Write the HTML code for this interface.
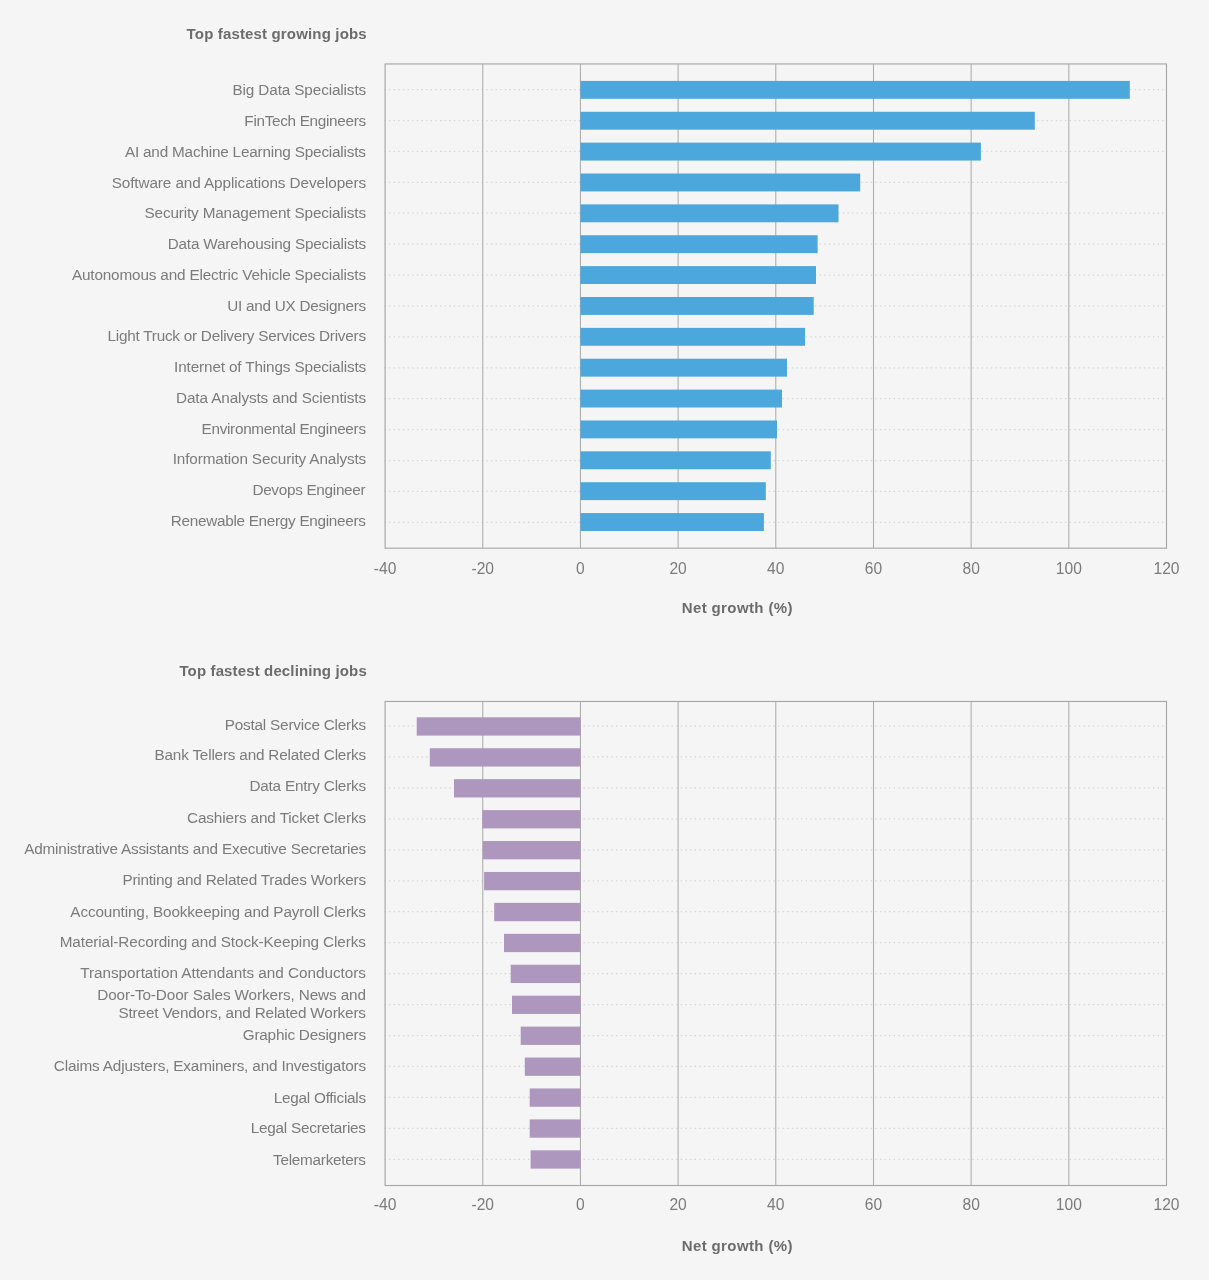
<!DOCTYPE html>
<html><head><meta charset="utf-8"><title>Fastest growing and declining jobs</title>
<style>
html,body{margin:0;padding:0;background:#f5f5f5;}
body{width:1209px;height:1280px;overflow:hidden;font-family:"Liberation Sans",sans-serif;}
svg{display:block;will-change:transform;font-family:"Liberation Sans",sans-serif;}
</style></head>
<body>
<svg width="1209" height="1280" viewBox="0 0 1209 1280">
<rect x="0" y="0" width="1209" height="1280" fill="#f5f5f5"/>
<line x1="384.45" y1="89.60" x2="1165.50" y2="89.60" stroke="#d4d4d4" stroke-width="1.25" stroke-dasharray="1.3 3.33"/>
<line x1="384.45" y1="120.51" x2="1165.50" y2="120.51" stroke="#d4d4d4" stroke-width="1.25" stroke-dasharray="1.3 3.33"/>
<line x1="384.45" y1="151.42" x2="1165.50" y2="151.42" stroke="#d4d4d4" stroke-width="1.25" stroke-dasharray="1.3 3.33"/>
<line x1="384.45" y1="182.33" x2="1066.83" y2="182.33" stroke="#d4d4d4" stroke-width="1.25" stroke-dasharray="1.3 3.33"/>
<line x1="384.45" y1="213.24" x2="1165.50" y2="213.24" stroke="#d4d4d4" stroke-width="1.25" stroke-dasharray="1.3 3.33"/>
<line x1="384.45" y1="244.15" x2="1165.50" y2="244.15" stroke="#d4d4d4" stroke-width="1.25" stroke-dasharray="1.3 3.33"/>
<line x1="384.45" y1="275.06" x2="1165.50" y2="275.06" stroke="#d4d4d4" stroke-width="1.25" stroke-dasharray="1.3 3.33"/>
<line x1="384.45" y1="305.97" x2="1165.50" y2="305.97" stroke="#d4d4d4" stroke-width="1.25" stroke-dasharray="1.3 3.33"/>
<line x1="384.45" y1="336.88" x2="1165.50" y2="336.88" stroke="#d4d4d4" stroke-width="1.25" stroke-dasharray="1.3 3.33"/>
<line x1="384.45" y1="367.79" x2="1165.50" y2="367.79" stroke="#d4d4d4" stroke-width="1.25" stroke-dasharray="1.3 3.33"/>
<line x1="384.45" y1="398.70" x2="1165.50" y2="398.70" stroke="#d4d4d4" stroke-width="1.25" stroke-dasharray="1.3 3.33"/>
<line x1="384.45" y1="429.61" x2="1165.50" y2="429.61" stroke="#d4d4d4" stroke-width="1.25" stroke-dasharray="1.3 3.33"/>
<line x1="384.45" y1="460.52" x2="1165.50" y2="460.52" stroke="#d4d4d4" stroke-width="1.25" stroke-dasharray="1.3 3.33"/>
<line x1="384.45" y1="491.43" x2="1165.50" y2="491.43" stroke="#d4d4d4" stroke-width="1.25" stroke-dasharray="1.3 3.33"/>
<line x1="384.45" y1="522.34" x2="1165.50" y2="522.34" stroke="#d4d4d4" stroke-width="1.25" stroke-dasharray="1.3 3.33"/>
<rect x="385.1" y="63.95" width="781.40" height="484.25" fill="none" stroke="#a4a4a4" stroke-width="1.1"/>
<line x1="482.78" y1="63.95" x2="482.78" y2="548.2" stroke="#a8a8a8" stroke-width="1"/>
<line x1="580.45" y1="63.95" x2="580.45" y2="548.2" stroke="#a8a8a8" stroke-width="1"/>
<line x1="678.12" y1="63.95" x2="678.12" y2="548.2" stroke="#a8a8a8" stroke-width="1"/>
<line x1="775.80" y1="63.95" x2="775.80" y2="548.2" stroke="#a8a8a8" stroke-width="1"/>
<line x1="873.48" y1="63.95" x2="873.48" y2="548.2" stroke="#a8a8a8" stroke-width="1"/>
<line x1="971.15" y1="63.95" x2="971.15" y2="548.2" stroke="#a8a8a8" stroke-width="1"/>
<line x1="1068.83" y1="63.95" x2="1068.83" y2="548.2" stroke="#a8a8a8" stroke-width="1"/>
<rect x="580.45" y="80.90" width="549.35" height="17.90" fill="#4ca7dc"/>
<rect x="580.45" y="111.77" width="454.35" height="17.90" fill="#4ca7dc"/>
<rect x="580.45" y="142.64" width="400.45" height="17.90" fill="#4ca7dc"/>
<rect x="580.45" y="173.51" width="279.75" height="17.90" fill="#4ca7dc"/>
<rect x="580.45" y="204.38" width="258.05" height="17.90" fill="#4ca7dc"/>
<rect x="580.45" y="235.25" width="237.15" height="17.90" fill="#4ca7dc"/>
<rect x="580.45" y="266.12" width="235.55" height="17.90" fill="#4ca7dc"/>
<rect x="580.45" y="296.99" width="233.25" height="17.90" fill="#4ca7dc"/>
<rect x="580.45" y="327.86" width="224.55" height="17.90" fill="#4ca7dc"/>
<rect x="580.45" y="358.73" width="206.55" height="17.90" fill="#4ca7dc"/>
<rect x="580.45" y="389.60" width="201.55" height="17.90" fill="#4ca7dc"/>
<rect x="580.45" y="420.47" width="196.55" height="17.90" fill="#4ca7dc"/>
<rect x="580.45" y="451.34" width="190.35" height="17.90" fill="#4ca7dc"/>
<rect x="580.45" y="482.21" width="185.35" height="17.90" fill="#4ca7dc"/>
<rect x="580.45" y="513.08" width="183.45" height="17.90" fill="#4ca7dc"/>
<text x="385.10" y="573.7" text-anchor="middle" font-size="15.6" fill="#7b7b7b">-40</text>
<text x="482.78" y="573.7" text-anchor="middle" font-size="15.6" fill="#7b7b7b">-20</text>
<text x="580.45" y="573.7" text-anchor="middle" font-size="15.6" fill="#7b7b7b">0</text>
<text x="678.12" y="573.7" text-anchor="middle" font-size="15.6" fill="#7b7b7b">20</text>
<text x="775.80" y="573.7" text-anchor="middle" font-size="15.6" fill="#7b7b7b">40</text>
<text x="873.48" y="573.7" text-anchor="middle" font-size="15.6" fill="#7b7b7b">60</text>
<text x="971.15" y="573.7" text-anchor="middle" font-size="15.6" fill="#7b7b7b">80</text>
<text x="1068.83" y="573.7" text-anchor="middle" font-size="15.6" fill="#7b7b7b">100</text>
<text x="1166.50" y="573.7" text-anchor="middle" font-size="15.6" fill="#7b7b7b">120</text>
<line x1="384.45" y1="726.00" x2="1165.50" y2="726.00" stroke="#d4d4d4" stroke-width="1.25" stroke-dasharray="1.3 3.33"/>
<line x1="384.45" y1="756.95" x2="1165.50" y2="756.95" stroke="#d4d4d4" stroke-width="1.25" stroke-dasharray="1.3 3.33"/>
<line x1="384.45" y1="787.90" x2="1165.50" y2="787.90" stroke="#d4d4d4" stroke-width="1.25" stroke-dasharray="1.3 3.33"/>
<line x1="384.45" y1="818.85" x2="1165.50" y2="818.85" stroke="#d4d4d4" stroke-width="1.25" stroke-dasharray="1.3 3.33"/>
<line x1="384.45" y1="849.80" x2="1165.50" y2="849.80" stroke="#d4d4d4" stroke-width="1.25" stroke-dasharray="1.3 3.33"/>
<line x1="384.45" y1="880.75" x2="1165.50" y2="880.75" stroke="#d4d4d4" stroke-width="1.25" stroke-dasharray="1.3 3.33"/>
<line x1="384.45" y1="911.70" x2="1165.50" y2="911.70" stroke="#d4d4d4" stroke-width="1.25" stroke-dasharray="1.3 3.33"/>
<line x1="384.45" y1="942.65" x2="1165.50" y2="942.65" stroke="#d4d4d4" stroke-width="1.25" stroke-dasharray="1.3 3.33"/>
<line x1="384.45" y1="973.60" x2="1165.50" y2="973.60" stroke="#d4d4d4" stroke-width="1.25" stroke-dasharray="1.3 3.33"/>
<line x1="384.45" y1="1004.55" x2="1165.50" y2="1004.55" stroke="#d4d4d4" stroke-width="1.25" stroke-dasharray="1.3 3.33"/>
<line x1="384.45" y1="1035.50" x2="1165.50" y2="1035.50" stroke="#d4d4d4" stroke-width="1.25" stroke-dasharray="1.3 3.33"/>
<line x1="384.45" y1="1066.45" x2="1165.50" y2="1066.45" stroke="#d4d4d4" stroke-width="1.25" stroke-dasharray="1.3 3.33"/>
<line x1="384.45" y1="1097.40" x2="1165.50" y2="1097.40" stroke="#d4d4d4" stroke-width="1.25" stroke-dasharray="1.3 3.33"/>
<line x1="384.45" y1="1128.35" x2="1165.50" y2="1128.35" stroke="#d4d4d4" stroke-width="1.25" stroke-dasharray="1.3 3.33"/>
<line x1="384.45" y1="1159.30" x2="1165.50" y2="1159.30" stroke="#d4d4d4" stroke-width="1.25" stroke-dasharray="1.3 3.33"/>
<rect x="385.1" y="701.45" width="781.40" height="484.05" fill="none" stroke="#a4a4a4" stroke-width="1.1"/>
<line x1="482.78" y1="701.45" x2="482.78" y2="1185.5" stroke="#a8a8a8" stroke-width="1"/>
<line x1="580.45" y1="701.45" x2="580.45" y2="1185.5" stroke="#a8a8a8" stroke-width="1"/>
<line x1="678.12" y1="701.45" x2="678.12" y2="1185.5" stroke="#a8a8a8" stroke-width="1"/>
<line x1="775.80" y1="701.45" x2="775.80" y2="1185.5" stroke="#a8a8a8" stroke-width="1"/>
<line x1="873.48" y1="701.45" x2="873.48" y2="1185.5" stroke="#a8a8a8" stroke-width="1"/>
<line x1="971.15" y1="701.45" x2="971.15" y2="1185.5" stroke="#a8a8a8" stroke-width="1"/>
<line x1="1068.83" y1="701.45" x2="1068.83" y2="1185.5" stroke="#a8a8a8" stroke-width="1"/>
<rect x="416.70" y="717.30" width="163.75" height="18.30" fill="#ae97bf"/>
<rect x="429.80" y="748.23" width="150.65" height="18.30" fill="#ae97bf"/>
<rect x="454.00" y="779.16" width="126.45" height="18.30" fill="#ae97bf"/>
<rect x="482.30" y="810.09" width="98.15" height="18.30" fill="#ae97bf"/>
<rect x="482.80" y="841.02" width="97.65" height="18.30" fill="#ae97bf"/>
<rect x="484.10" y="871.95" width="96.35" height="18.30" fill="#ae97bf"/>
<rect x="494.20" y="902.88" width="86.25" height="18.30" fill="#ae97bf"/>
<rect x="504.00" y="933.81" width="76.45" height="18.30" fill="#ae97bf"/>
<rect x="510.70" y="964.74" width="69.75" height="18.30" fill="#ae97bf"/>
<rect x="512.00" y="995.67" width="68.45" height="18.30" fill="#ae97bf"/>
<rect x="520.70" y="1026.60" width="59.75" height="18.30" fill="#ae97bf"/>
<rect x="524.80" y="1057.53" width="55.65" height="18.30" fill="#ae97bf"/>
<rect x="529.70" y="1088.46" width="50.75" height="18.30" fill="#ae97bf"/>
<rect x="529.70" y="1119.39" width="50.75" height="18.30" fill="#ae97bf"/>
<rect x="530.60" y="1150.32" width="49.85" height="18.30" fill="#ae97bf"/>
<text x="385.10" y="1210.0" text-anchor="middle" font-size="15.6" fill="#7b7b7b">-40</text>
<text x="482.78" y="1210.0" text-anchor="middle" font-size="15.6" fill="#7b7b7b">-20</text>
<text x="580.45" y="1210.0" text-anchor="middle" font-size="15.6" fill="#7b7b7b">0</text>
<text x="678.12" y="1210.0" text-anchor="middle" font-size="15.6" fill="#7b7b7b">20</text>
<text x="775.80" y="1210.0" text-anchor="middle" font-size="15.6" fill="#7b7b7b">40</text>
<text x="873.48" y="1210.0" text-anchor="middle" font-size="15.6" fill="#7b7b7b">60</text>
<text x="971.15" y="1210.0" text-anchor="middle" font-size="15.6" fill="#7b7b7b">80</text>
<text x="1068.83" y="1210.0" text-anchor="middle" font-size="15.6" fill="#7b7b7b">100</text>
<text x="1166.50" y="1210.0" text-anchor="middle" font-size="15.6" fill="#7b7b7b">120</text>
<text id="a0" x="232.51" y="95" font-size="15.3" fill="#7b7b7b" textLength="133.66" lengthAdjust="spacing">Big Data Specialists</text>
<text id="a1" x="244.33" y="126" font-size="15.3" fill="#7b7b7b" textLength="121.82" lengthAdjust="spacing">FinTech Engineers</text>
<text id="a2" x="124.91" y="157" font-size="15.3" fill="#7b7b7b" textLength="241.06" lengthAdjust="spacing">AI and Machine Learning Specialists</text>
<text id="a3" x="111.63" y="188" font-size="15.3" fill="#7b7b7b" textLength="254.57" lengthAdjust="spacing">Software and Applications Developers</text>
<text id="a4" x="144.50" y="218" font-size="15.3" fill="#7b7b7b" textLength="221.57" lengthAdjust="spacing">Security Management Specialists</text>
<text id="a5" x="167.68" y="249" font-size="15.3" fill="#7b7b7b" textLength="198.46" lengthAdjust="spacing">Data Warehousing Specialists</text>
<text id="a6" x="71.97" y="280" font-size="15.3" fill="#7b7b7b" textLength="294.09" lengthAdjust="spacing">Autonomous and Electric Vehicle Specialists</text>
<text id="a7" x="227.29" y="311" font-size="15.3" fill="#7b7b7b" textLength="138.89" lengthAdjust="spacing">UI and UX Designers</text>
<text id="a8" x="107.51" y="341" font-size="15.3" fill="#7b7b7b" textLength="258.56" lengthAdjust="spacing">Light Truck or Delivery Services Drivers</text>
<text id="a9" x="174.11" y="372" font-size="15.3" fill="#7b7b7b" textLength="192.09" lengthAdjust="spacing">Internet of Things Specialists</text>
<text id="a10" x="175.99" y="403" font-size="15.3" fill="#7b7b7b" textLength="190.17" lengthAdjust="spacing">Data Analysts and Scientists</text>
<text id="a11" x="201.51" y="434" font-size="15.3" fill="#7b7b7b" textLength="164.53" lengthAdjust="spacing">Environmental Engineers</text>
<text id="a12" x="172.72" y="464" font-size="15.3" fill="#7b7b7b" textLength="193.47" lengthAdjust="spacing">Information Security Analysts</text>
<text id="a13" x="252.39" y="495" font-size="15.3" fill="#7b7b7b" textLength="113.24" lengthAdjust="spacing">Devops Engineer</text>
<text id="a14" x="170.77" y="526" font-size="15.3" fill="#7b7b7b" textLength="195.22" lengthAdjust="spacing">Renewable Energy Engineers</text>
<text id="b0" x="224.78" y="730" font-size="15.3" fill="#7b7b7b" textLength="141.29" lengthAdjust="spacing">Postal Service Clerks</text>
<text id="b1" x="154.51" y="760" font-size="15.3" fill="#7b7b7b" textLength="211.68" lengthAdjust="spacing">Bank Tellers and Related Clerks</text>
<text id="b2" x="249.39" y="791" font-size="15.3" fill="#7b7b7b" textLength="116.81" lengthAdjust="spacing">Data Entry Clerks</text>
<text id="b3" x="186.95" y="823" font-size="15.3" fill="#7b7b7b" textLength="179.20" lengthAdjust="spacing">Cashiers and Ticket Clerks</text>
<text id="b4" x="24.19" y="854" font-size="15.3" fill="#7b7b7b" textLength="342.02" lengthAdjust="spacing">Administrative Assistants and Executive Secretaries</text>
<text id="b5" x="122.39" y="885" font-size="15.3" fill="#7b7b7b" textLength="243.75" lengthAdjust="spacing">Printing and Related Trades Workers</text>
<text id="b6" x="70.33" y="917" font-size="15.3" fill="#7b7b7b" textLength="295.70" lengthAdjust="spacing">Accounting, Bookkeeping and Payroll Clerks</text>
<text id="b7" x="59.68" y="947" font-size="15.3" fill="#7b7b7b" textLength="306.31" lengthAdjust="spacing">Material-Recording and Stock-Keeping Clerks</text>
<text id="b8" x="80.18" y="978" font-size="15.3" fill="#7b7b7b" textLength="285.83" lengthAdjust="spacing">Transportation Attendants and Conductors</text>
<text id="b9" x="97.19" y="1000" font-size="15.3" fill="#7b7b7b" textLength="268.82" lengthAdjust="spacing">Door-To-Door Sales Workers, News and</text>
<text id="b10" x="118.50" y="1018" font-size="15.3" fill="#7b7b7b" textLength="247.51" lengthAdjust="spacing">Street Vendors, and Related Workers</text>
<text id="b11" x="242.73" y="1040" font-size="15.3" fill="#7b7b7b" textLength="123.31" lengthAdjust="spacing">Graphic Designers</text>
<text id="b12" x="53.79" y="1071" font-size="15.3" fill="#7b7b7b" textLength="312.42" lengthAdjust="spacing">Claims Adjusters, Examiners, and Investigators</text>
<text id="b13" x="273.76" y="1103" font-size="15.3" fill="#7b7b7b" textLength="92.40" lengthAdjust="spacing">Legal Officials</text>
<text id="b14" x="250.78" y="1133" font-size="15.3" fill="#7b7b7b" textLength="115.22" lengthAdjust="spacing">Legal Secretaries</text>
<text id="b15" x="273.09" y="1165" font-size="15.3" fill="#7b7b7b" textLength="92.92" lengthAdjust="spacing">Telemarketers</text>
<text id="t1" x="186.59" y="39" font-size="15.0" font-weight="bold" fill="#6c6c6e" textLength="180.04" lengthAdjust="spacing">Top fastest growing jobs</text>
<text id="t2" x="179.39" y="676" font-size="15.0" font-weight="bold" fill="#6c6c6e" textLength="187.34" lengthAdjust="spacing">Top fastest declining jobs</text>
<text id="n1" x="681.68" y="613" font-size="15.0" font-weight="bold" fill="#6c6c6e" textLength="110.86" lengthAdjust="spacing">Net growth (%)</text>
<text id="n2" x="681.68" y="1251" font-size="15.0" font-weight="bold" fill="#6c6c6e" textLength="110.86" lengthAdjust="spacing">Net growth (%)</text>
</svg>
</body></html>
